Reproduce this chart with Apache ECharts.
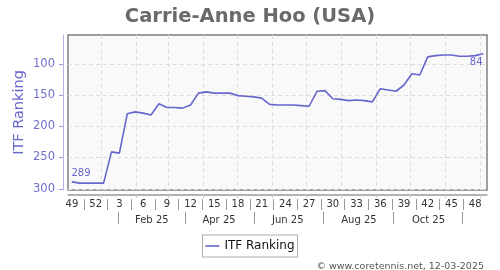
<!DOCTYPE html>
<html><head><meta charset="utf-8">
<script src="https://cdn.jsdelivr.net/npm/echarts@6/dist/echarts.min.js"></script>
<style>html,body{margin:0;padding:0;background:#fff}#c{width:500px;height:270px}</style>
</head><body><div id="c"></div>
<script>
// week numbers (Dec 2024 -> Dec 2025)
const weeks = [49,50,51,52,1,2,3,4,5,6,7,8,9,10,11,12,13,14,15,16,17,18,19,20,21,22,23,24,25,26,27,28,29,30,31,32,33,34,35,36,37,38,39,40,41,42,43,44,45,46,47,48,49];
// ITF ranking per week
const ranking = [289,291,291,291,291,241,243,180,177,179,182,164,170,170,171,166,147,145,147,147,147,151,152,153,155,165,166,166,166,167,168,144,143,156,157,159,158,159,161,140,142,144,134,116,118,89,87,86,86,88,88,87,84];
const yTicks = [100,150,200,250,300];
const weekLabelIdx = [0,3,6,9,12,15,18,21,24,27,30,33,36,39,42,45,48,51];
const weekSeparators = [1.5,4.5,7.5,10.5,13.5,16.5,19.5,22.5,25.5,28.5,31.5,34.5,37.5,40.5,43.5,46.5,49.5];
const monthGridPos = [3.68,8.11,12.12,16.55,20.86,25.35,29.66,34.09,38.53,42.84,47.19,51.6];
const monthLabels = ['Feb 25','Apr 25','Jun 25','Aug 25','Oct 25'];
const monthLabelPos = [10.1,18.6,27.3,36.3,45.1];
const monthSeparators = [5.9,14.3,23.1,31.8,40.7,49.4];

const lineColor = '#6666cc';
const last = ranking.length - 1;
const seriesData = ranking.map((v, i) => {
  if (i === 0) return {value: v, symbol: 'circle', symbolSize: 1,
    label: {show: true, position: [0, -8], align: 'left', verticalAlign: 'middle'}};
  if (i === last) return {value: v, symbol: 'circle', symbolSize: 1,
    label: {show: true, position: [0, 9], align: 'right', verticalAlign: 'middle'}};
  return v;
});

const chart = echarts.init(document.getElementById('c'), null, {renderer: 'canvas'});
const xMin = -0.5, xMax = weeks.length - 0.5;
chart.setOption({
  animation: false,
  backgroundColor: '#ffffff',
  textStyle: {fontFamily: 'DejaVu Sans'},
  title: [
    {text: 'Carrie-Anne Hoo (USA)', left: 'center', top: 2,
     textStyle: {fontSize: 19.5, fontWeight: 'bold', color: '#6a6a6a', fontFamily: 'DejaVu Sans'}},
    {text: '© www.coretennis.net, 12-03-2025', right: 11, top: 257,
     textStyle: {fontSize: 9.5, fontWeight: 'normal', color: '#555', fontFamily: 'DejaVu Sans'}}
  ],
  legend: {
    top: 235, left: 'center',
    data: [{name: 'ITF Ranking', icon: 'rect'}],
    borderColor: '#aaaaaa', borderWidth: 1, borderRadius: 0,
    padding: [4, 3, 4, 3], itemWidth: 14, itemHeight: 1.6, itemGap: 5,
    textStyle: {fontSize: 12, color: '#111', fontFamily: 'DejaVu Sans', lineHeight: 14}
  },
  grid: {left: 68, top: 35, right: 13, bottom: 80, show: true,
    backgroundColor: '#f9f9f9', borderColor: '#808080', borderWidth: 1.5,
    outerBoundsMode: 'none', containLabel: false},
  xAxis: [
    {type: 'category', data: weeks, boundaryGap: true, show: false},
    {type: 'value', position: 'bottom', offset: 9, min: xMin, max: xMax,
     axisLine: {show: false, onZero: false},
     axisTick: {show: true, customValues: weekSeparators, length: 11, lineStyle: {color: '#999', width: 1}},
     axisLabel: {show: true, customValues: weekLabelIdx, margin: 0, fontSize: 10, color: '#333',
       formatter: v => String(weeks[Math.round(v)])},
     splitLine: {show: false}},
    {type: 'value', position: 'bottom', offset: 5, min: xMin, max: xMax,
     axisLine: {show: true, onZero: false, lineStyle: {color: '#999', width: 1.5}},
     axisTick: {show: true, customValues: monthGridPos, length: 3, lineStyle: {color: '#ccc'}},
     axisLabel: {show: false},
     splitLine: {show: true, lineStyle: {color: '#dddddd', type: [4, 3], width: 1}}},
    {type: 'value', position: 'bottom', offset: 22, min: xMin, max: xMax,
     axisLine: {show: false, onZero: false},
     axisTick: {show: true, customValues: monthSeparators, length: 12, lineStyle: {color: '#999', width: 1}},
     axisLabel: {show: true, customValues: monthLabelPos, margin: 3, fontSize: 10, color: '#333',
       formatter: v => { const k = monthLabelPos.findIndex(p => Math.abs(p - v) < 0.01); return k >= 0 ? monthLabels[k] : ''; }},
     splitLine: {show: false}}
  ],
  yAxis: {
    type: 'value', inverse: true, min: 54, max: 302, offset: 5,
    name: 'ITF Ranking', nameLocation: 'middle', nameGap: 36, nameMoveOverlap: false,
    nameTextStyle: {fontSize: 14.5, color: lineColor, fontFamily: 'DejaVu Sans'},
    axisLine: {show: true, onZero: false, lineStyle: {color: '#b4b4e6', width: 1}},
    axisTick: {show: true, customValues: yTicks, length: 4, lineStyle: {color: '#9999dd'}},
    axisLabel: {customValues: yTicks, margin: 8, fontSize: 11.5, color: '#7070cc'},
    splitLine: {show: true, lineStyle: {color: '#dddddd', type: [4, 3], width: 1}}
  },
  series: [{
    name: 'ITF Ranking', type: 'line', xAxisIndex: 0, yAxisIndex: 0,
    data: seriesData, symbol: 'none', showAllSymbol: true, smooth: false,
    itemStyle: {color: lineColor},
    lineStyle: {color: lineColor, width: 1.6},
    label: {fontSize: 10, color: lineColor, fontFamily: 'DejaVu Sans'},
    emphasis: {disabled: true}
  }]
});
</script>
</body></html>
